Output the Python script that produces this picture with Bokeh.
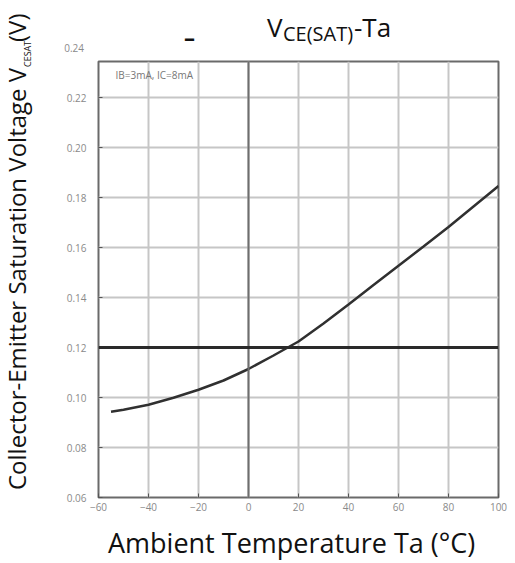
from bokeh.plotting import figure
from bokeh.layouts import row, column
from bokeh.models import Label, Span, FixedTicker, Range1d, CustomJSTickFormatter, Div
from bokeh.embed import file_html
from bokeh.resources import INLINE

# ---- data ----
temperature_c = [-55, -50, -40, -30, -20, -10, 0, 10, 20, 30, 40, 50, 60, 70, 80, 90, 100]
vce_sat_v = [0.0943, 0.0951, 0.0971, 0.0999, 0.1031, 0.1068, 0.1114, 0.1168, 0.1224,
             0.1296, 0.1372, 0.1450, 0.1527, 0.1604, 0.1682, 0.1764, 0.1846]
x_ticks = [-60, -40, -20, 0, 20, 40, 60, 80, 100]
y_ticks = [0.06, 0.08, 0.10, 0.12, 0.14, 0.16, 0.18, 0.20, 0.22]
y_top_tick = 0.24
x_ref_line = [0]
y_ref_line = [0.12]
condition_text = "IB=3mA, IC=8mA"
title_main = "V"
title_sub = "CE(SAT)"
title_tail = "-Ta"
x_label = "Ambient Temperature Ta (°C)"
y_label_main = "Collector-Emitter Saturation Voltage V"
y_label_sub = "CESAT"
y_label_tail = " (V)"

FONT = "Open Sans"
TOTAL_W, TOTAL_H = 515, 563
LEFT_W = 44          # width of the rotated y-label strip
TOP_H = 58           # height of the title strip
BOTTOM_H = 43        # height of the x-label strip
MAIN_W = TOTAL_W - LEFT_W
MAIN_H = TOTAL_H - TOP_H - BOTTOM_H
FRAME_L, FRAME_T, FRAME_W, FRAME_H = 98, 61, 400, 436   # page px
ASC = 0.888          # baseline position inside a 1em line box (Open Sans)


def span(text, left, baseline, size, color="#111111", weight="normal", rotate=False,
         extra=""):
    if rotate:
        # rotated -90deg around top-left: 'left' = start y of the text, 'baseline' = x of baseline
        x_left = baseline - ASC * size
        return (f'<span style="position:absolute;left:{x_left:.1f}px;top:{left:.1f}px;'
                f'font-family:\'{FONT}\';font-size:{size}px;line-height:{size}px;'
                f'color:{color};font-weight:{weight};white-space:nowrap;'
                f'transform:rotate(-90deg);transform-origin:0 0;{extra}">{text}</span>')
    top = baseline - ASC * size
    return (f'<span style="position:absolute;left:{left:.1f}px;top:{top:.1f}px;'
            f'font-family:\'{FONT}\';font-size:{size}px;line-height:{size}px;'
            f'color:{color};font-weight:{weight};white-space:nowrap;{extra}">{text}</span>')


def strip(html, width, height):
    return Div(text=html, width=width, height=height, margin=0,
               styles={"position": "relative", "overflow": "visible", "padding": "0"})


# ---- main chart ----
p = figure(width=MAIN_W, height=MAIN_H, output_backend="svg", toolbar_location=None,
           x_range=Range1d(-60, 100), y_range=Range1d(0.06, 0.2344),
           min_border_left=FRAME_L - LEFT_W,
           min_border_right=MAIN_W - (FRAME_L - LEFT_W) - FRAME_W,
           min_border_top=FRAME_T - TOP_H,
           min_border_bottom=MAIN_H - (FRAME_T - TOP_H) - FRAME_H)
p.title.visible = False
p.background_fill_color = "white"
p.border_fill_color = "white"
p.outline_line_color = "#6a6a6a"
p.outline_line_width = 2

for ax in (p.xaxis[0], p.yaxis[0]):
    ax.axis_line_color = None
    ax.major_tick_in = 4
    ax.major_tick_out = 0
    ax.minor_tick_line_color = None
    ax.major_tick_line_color = "#555555"
    ax.major_tick_line_width = 1
    ax.major_label_text_font = FONT
    ax.major_label_text_font_size = "10px"
    ax.major_label_text_color = "#8a8a8a"

p.xaxis.ticker = FixedTicker(ticks=x_ticks)
p.yaxis.ticker = FixedTicker(ticks=y_ticks)
p.yaxis.formatter = CustomJSTickFormatter(code="return tick.toFixed(2);")
p.xaxis.major_label_standoff = 5
p.yaxis.major_label_standoff = 12

p.xgrid.ticker = FixedTicker(ticks=x_ticks)
p.ygrid.ticker = FixedTicker(ticks=y_ticks)
p.xgrid.grid_line_color = "#c6c6c6"
p.ygrid.grid_line_color = "#c6c6c6"
p.xgrid.grid_line_width = 2
p.ygrid.grid_line_width = 2

for xv in x_ref_line:
    p.add_layout(Span(location=xv, dimension="height", line_color="#6e6e6e", line_width=2))
for yv in y_ref_line:
    p.add_layout(Span(location=yv, dimension="width", line_color="#2a2a2a", line_width=3))

p.line(temperature_c, vce_sat_v, line_color="#303030", line_width=2.5)

p.add_layout(Label(x=-60, y=0.2344, x_offset=115 - FRAME_L, y_offset=-(74 - FRAME_T),
                   text=condition_text, text_font=FONT, text_font_size="10px",
                   text_color="#777777", text_align="left", text_baseline="middle"))

# ---- title strip (page origin x=LEFT_W, y=0) ----
ox = LEFT_W
title_html = (
    span(f"{y_top_tick:.2f}", 0, 51.6, 10, color="#8a8a8a",
         extra="width:40px;text-align:right;")
    + span("–", 184 - ox, 45.6, 22, weight="bold")
    + span(title_main, 267 - ox, 37, 26)
    + span(title_sub, 283 - ox, 42, 20)
    + span(title_tail, 354 - ox, 37, 26)
)
t = strip(title_html, MAIN_W, TOP_H)

# ---- x-label strip (page origin x=LEFT_W, y=TOP_H+MAIN_H) ----
oy = TOP_H + MAIN_H
b = strip(span(x_label, 108 - ox, 553 - oy, 27), MAIN_W, BOTTOM_H)

# ---- y-label strip (page origin 0,0) ----
ylab_html = (
    span(y_label_main, 490, 26, 24, rotate=True)
    + span(y_label_sub, 67, 31, 9, rotate=True)
    + span(y_label_tail, 42, 26, 24, rotate=True)
)
l = strip(ylab_html, LEFT_W, TOTAL_H)

layout = row(l, column(t, p, b, spacing=0), spacing=0)
open("out.html", "w").write(file_html(layout, INLINE))
